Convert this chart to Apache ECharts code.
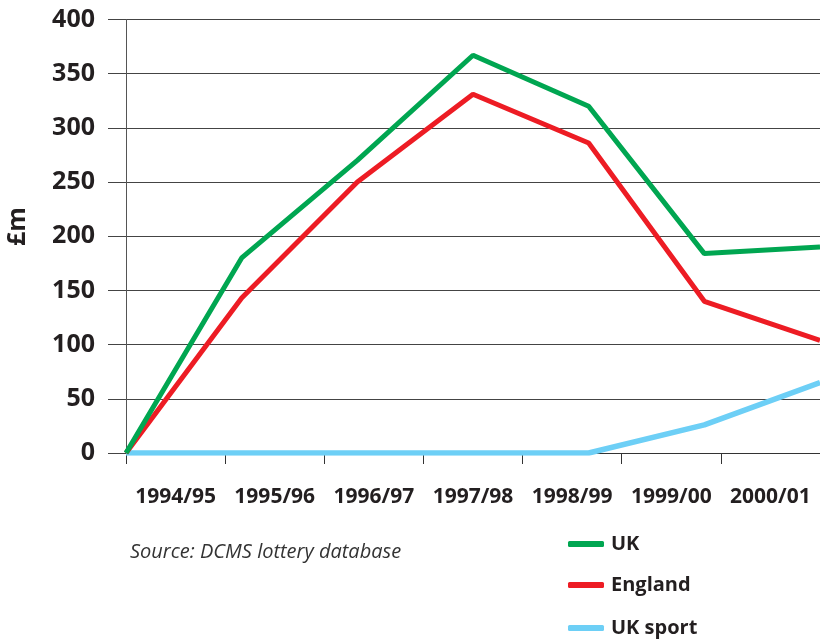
<!DOCTYPE html>
<html>
<head>
<meta charset="utf-8">
<script src="https://cdn.jsdelivr.net/npm/echarts@6/dist/echarts.min.js"></script>
<style>
  html, body { margin: 0; padding: 0; background: #fff; }
  #chart { width: 820px; height: 641px; }
</style>
</head>
<body>
<div id="chart"></div>
<script>
// years on the x axis
const years = ['1994/95', '1995/96', '1996/97', '1997/98', '1998/99', '1999/00', '2000/01'];
// £m per year
const ukValues = [0, 180, 270, 367, 320, 184, 190];
const englandValues = [0, 143, 250, 331, 286, 140, 104];
const ukSportValues = [0, 0, 0, 0, 0, 26, 65];
const yTicks = [0, 50, 100, 150, 200, 250, 300, 350, 400];
const legendNames = ['UK', 'England', 'UK sport'];

const textColor = '#231f20';
const fontFamily = '"Open Sans", "DejaVu Sans", sans-serif';

const chart = echarts.init(document.getElementById('chart'));

// one legend per entry so they stack like the original
const legendTops = [529, 570, 613];
const legends = legendNames.map((name, i) => ({
    orient: 'vertical',
    left: 563,
    top: legendTops[i],
    itemWidth: 36,
    itemHeight: 6,
    icon: 'roundRect',
    data: [name],
    textStyle: { fontFamily: fontFamily, fontWeight: 'bold', fontSize: 20, color: textColor, padding: [0, 0, 0, 2] }
}));

const option = {
    animation: false,
    grid: { left: 126, top: 19.5, width: 700, height: 433.5 },
    legend: legends,
    graphic: [
        {
            type: 'text', left: 130, top: 542,
            style: { text: 'Source: DCMS lottery database', fontFamily: fontFamily, fontStyle: 'italic', fontSize: 20, fill: '#333' }
        },
        {
            type: 'text', x: 5, y: 246, rotation: Math.PI / 2,
            style: { text: '£m', fontFamily: fontFamily, fontWeight: 'bold', fontSize: 25, fill: textColor }
        }
    ],
    xAxis: [
        {
            type: 'category',
            data: years,
            boundaryGap: true,
            axisLine: { show: true, lineStyle: { color: '#333', width: 1 } },
            axisTick: { show: true, interval: 0, length: 11, lineStyle: { color: '#333', width: 1 } },
            axisLabel: { interval: 0, margin: 34, fontFamily: fontFamily, fontWeight: 'bold', fontSize: 21, color: textColor },
            splitLine: { show: false }
        },
        {
            type: 'category',
            data: years,
            boundaryGap: false,
            show: false
        }
    ],
    yAxis: {
        type: 'value',
        min: yTicks[0],
        max: yTicks[yTicks.length - 1],
        interval: 50,
        axisLine: { show: true, lineStyle: { color: '#555', width: 1 } },
        axisTick: { show: true, inside: false, length: 18, lineStyle: { color: '#444', width: 1 } },
        axisLabel: { margin: 31, fontFamily: fontFamily, fontWeight: 'bold', fontSize: 25, color: textColor },
        splitLine: { show: true, lineStyle: { color: '#444', width: 1 } }
    },
    series: [
        {
            name: 'UK sport', type: 'line', xAxisIndex: 1, data: ukSportValues,
            showSymbol: false, symbol: 'none', color: '#6dcff6',
            lineStyle: { width: 5.5, color: '#6dcff6' }
        },
        {
            name: 'England', type: 'line', xAxisIndex: 1, data: englandValues,
            showSymbol: false, symbol: 'none', color: '#ed1c24',
            lineStyle: { width: 5, color: '#ed1c24' }
        },
        {
            name: 'UK', type: 'line', xAxisIndex: 1, data: ukValues,
            showSymbol: false, symbol: 'none', color: '#00a651',
            lineStyle: { width: 5, color: '#00a651' }
        }
    ]
};

chart.setOption(option);
</script>
</body>
</html>
